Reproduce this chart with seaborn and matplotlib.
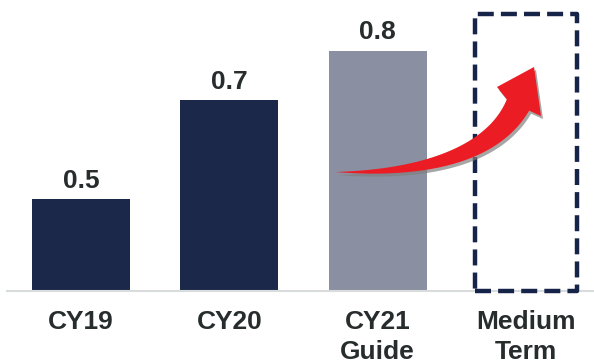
import numpy as np
import pandas as pd
import matplotlib
matplotlib.use("Agg")
import matplotlib.pyplot as plt
from matplotlib.patches import Polygon, Rectangle
from matplotlib.transforms import Affine2D
import seaborn as sns

# ---- data ----
periods = ["CY19", "CY20", "CY21\nGuide", "Medium\nTerm"]
reported = ["CY19", "CY20", "CY21\nGuide"]
values = [0.5, 0.7, 0.8]
bar_colors = ["#1b2849", "#1b2849", "#8a90a2"]

NAVY = "#17244a"
TEXT = "#272c2c"
RED = "#ec1c24"

sns.set_theme(style="white")
plt.rcParams["font.family"] = ["Liberation Sans", "DejaVu Sans"]

W, H = 594, 364
fig = plt.figure(figsize=(W / 100, H / 100), dpi=100)

# axes spans from the left baseline start to the right edge
ax_left, ax_right = 7, 594
ax_top, ax_bottom = 5, 291
ax = fig.add_axes([ax_left / W, (H - ax_bottom) / H,
                   (ax_right - ax_left) / W, (ax_bottom - ax_top) / H])

df = pd.DataFrame({"period": reported, "value": values})
sns.barplot(data=df, x="period", y="value", hue="period",
            order=periods, hue_order=reported, palette=bar_colors,
            saturation=1, width=0.66, linewidth=0, legend=False, ax=ax)

ymin = 0.315
ymax = ymin + (ax_bottom - ax_top) / 495.7
ax.set_ylim(ymin, ymax)
ax.set_xlim(-0.499, 3.459)

for cont in ax.containers:
    ax.bar_label(cont, fmt="%.1f", padding=4.5, fontsize=19,
                 fontweight="bold", color=TEXT)

# placeholder frame for the medium-term target
box_w = 0.688
box_top = ymin + (ax_bottom - 14) / 495.7
frame = Rectangle((3 - box_w / 2, ymin), box_w, box_top - ymin,
                  fill=False, edgecolor=NAVY, linewidth=3.2,
                  linestyle=(0, (3.6, 1.6)), joinstyle="round",
                  capstyle="butt", clip_on=False, zorder=3)
ax.add_patch(frame)

ax.set_xlabel("")
ax.set_ylabel("")
ax.set_yticks([])
ax.tick_params(axis="x", length=0, pad=14, labelsize=19, labelcolor=TEXT)
for lbl in ax.get_xticklabels():
    lbl.set_fontweight("bold")
    lbl.set_linespacing(1.3)
for side in ("top", "left", "right"):
    ax.spines[side].set_visible(False)
ax.spines["bottom"].set_color("#d8dcdc")
ax.spines["bottom"].set_linewidth(1.5)

# curved growth arrow, built in pixel space (origin top-left)
px = Affine2D().scale(1 / W, -1 / H).translate(0, 1) + fig.transFigure
P = np.array([[335, 172], [410, 174], [490, 160], [518, 105]], float)
t = np.linspace(0, 1, 80)[:, None]
curve = ((1 - t) ** 3 * P[0] + 3 * t * (1 - t) ** 2 * P[1]
         + 3 * t ** 2 * (1 - t) * P[2] + t ** 3 * P[3])
deriv = (3 * (1 - t) ** 2 * (P[1] - P[0]) + 6 * t * (1 - t) * (P[2] - P[1])
         + 3 * t ** 2 * (P[3] - P[2]))
tang = deriv / np.linalg.norm(deriv, axis=1, keepdims=True)
normal = np.column_stack([-tang[:, 1], tang[:, 0]])
half = (25 * t) / 2
upper = curve - normal * half
lower = curve + normal * half
head = np.array([[497, 87], [534, 67], [541, 116]], float)
outline = np.vstack([upper, head, lower[::-1]])

shadow = Polygon(outline + [2, 3], closed=True, facecolor="#808080",
                 edgecolor="none", alpha=0.7, transform=px, zorder=4)
arrow = Polygon(outline, closed=True, facecolor=RED, edgecolor="none",
                transform=px, zorder=5)
fig.patches.extend([shadow, arrow])

fig.savefig("out.png", dpi=100)
